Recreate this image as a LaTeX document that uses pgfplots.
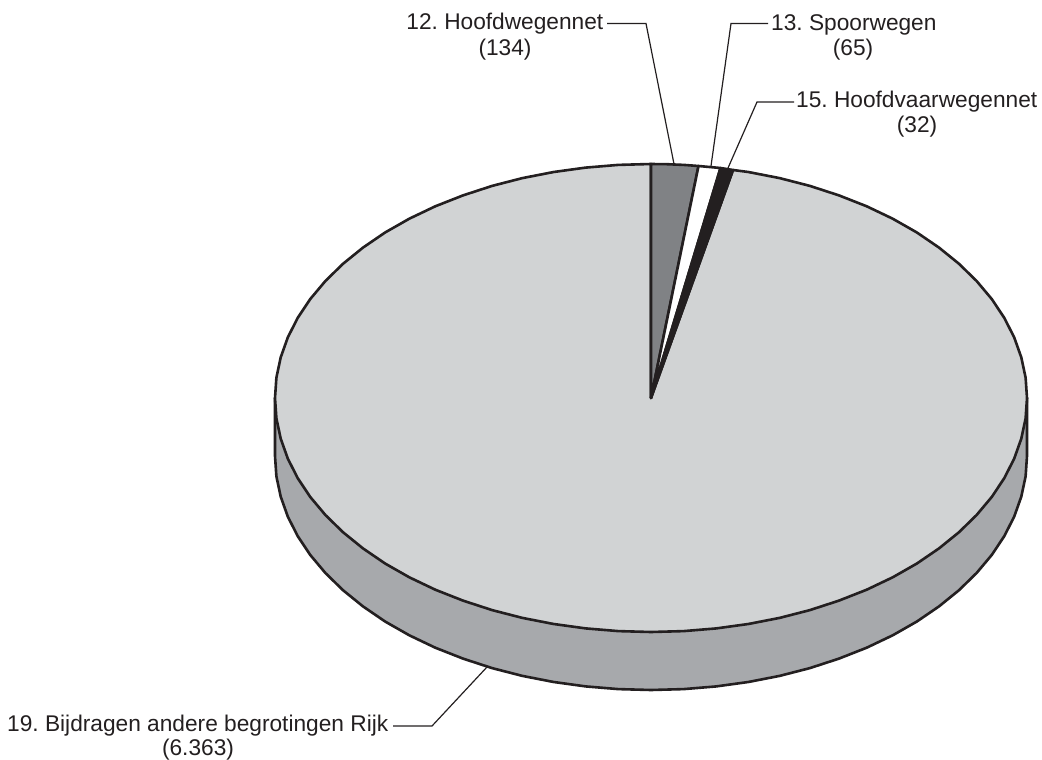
\documentclass[border=0pt]{standalone}
\usepackage{fontspec}
\setmainfont{Liberation Sans}
\usepackage{pgfplots}
\pgfplotsset{compat=1.18}
\definecolor{ink}{HTML}{231F20}
\definecolor{topgrey}{HTML}{D1D3D4}
\definecolor{sidegrey}{HTML}{A7A9AC}
\definecolor{roadgrey}{HTML}{808285}
\tikzset{lab/.style={text=ink, font=\fontsize{22.7}{26}\selectfont\frenchspacing, inner sep=0pt}}
\begin{document}
\begin{tikzpicture}
\path[use as bounding box] (0,0) rectangle (1042pt,760pt);
\begin{axis}[
    scale only axis, width=1042pt, height=760pt,
    xmin=0, xmax=1042, ymin=0, ymax=760, y dir=reverse,
    hide axis, clip=false,
    pie/.style={draw=ink, line width=2.6pt, line join=round},
    lead/.style={draw=ink, line width=1.2pt, line join=miter}
]
% side wall
\addplot[pie, fill=sidegrey] coordinates {
(1027,398) (1027,456) (1025.6,476.4) (1021.3,496.6) (1014.2,516.6) (1004.3,536.1)
(991.8,554.9) (976.6,573) (959,590.2) (939,606.4) (916.9,621.5) (892.7,635.3)
(866.7,647.7) (839,658.6) (809.9,668.1) (779.6,675.9) (748.3,682) (716.3,686.4)
(683.8,689.1) (651,690) (618.2,689.1) (585.7,686.4) (553.7,682) (522.4,675.9)
(492.1,668.1) (463,658.6) (435.3,647.7) (409.3,635.3) (385.1,621.5) (363,606.4)
(343,590.2) (325.4,573) (310.2,554.9) (297.7,536.1) (287.8,516.6) (280.7,496.6)
(276.4,476.4) (275,456) (275,398)
} -- cycle;
% 19. Bijdragen andere begrotingen Rijk
\addplot[pie, fill=topgrey] coordinates {
(651,398) (733,170) (748.3,172) (779.6,178.1) (809.9,185.9) (839,195.4) (866.7,206.3)
(892.7,218.7) (916.9,232.5) (939,247.6) (959,263.8) (976.6,281) (991.8,299.1)
(1004.3,317.9) (1014.2,337.4) (1021.3,357.4) (1025.6,377.6) (1027,398)
(1025.6,418.4) (1021.3,438.6) (1014.2,458.6) (1004.3,478.1) (991.8,496.9)
(976.6,515) (959,532.2) (939,548.4) (916.9,563.5) (892.7,577.3) (866.7,589.7)
(839,600.6) (809.9,610.1) (779.6,617.9) (748.3,624) (716.3,628.4) (683.8,631.1)
(651,632) (618.2,631.1) (585.7,628.4) (553.7,624) (522.4,617.9) (492.1,610.1)
(463,600.6) (435.3,589.7) (409.3,577.3) (385.1,563.5) (363,548.4) (343,532.2)
(325.4,515) (310.2,496.9) (297.7,478.1) (287.8,458.6) (280.7,438.6) (276.4,418.4)
(275,398) (276.4,377.6) (280.7,357.4) (287.8,337.4) (297.7,317.9) (310.2,299.1)
(325.4,281) (343,263.8) (363,247.6) (385.1,232.5) (409.3,218.7) (435.3,206.3)
(463,195.4) (492.1,185.9) (522.4,178.1) (553.7,172) (585.7,167.6) (618.2,164.9)
(651,164)
} -- cycle;
% 12. Hoofdwegennet
\addplot[pie, fill=roadgrey] coordinates {(651,398) (651,164) (667,164.2) (683.8,164.9) (698.5,166)} -- cycle;
% 13. Spoorwegen
\addplot[pie, fill=white] coordinates {(651,398) (698.5,166) (720.5,168)} -- cycle;
% 15. Hoofdvaarwegennet
\addplot[pie, fill=ink] coordinates {(651,398) (720.5,168) (733,170)} -- cycle;
% leader lines
\addplot[lead] coordinates {(607,23.5) (646,23.5) (674,164)};
\addplot[lead] coordinates {(768,23.5) (731,23.5) (711,166)};
\addplot[lead] coordinates {(794,102) (757,102) (728,168)};
\addplot[lead] coordinates {(393,726) (432,726) (487,667)};
% labels
\node[lab, anchor=base east] at (axis cs:603.5,30) {12. Hoofdwegennet};
\node[lab, anchor=base] at (axis cs:505,56) {(134)};
\node[lab, anchor=base west] at (axis cs:771,30.5) {13. Spoorwegen};
\node[lab, anchor=base] at (axis cs:853,55.5) {(65)};
\node[lab, anchor=base west] at (axis cs:796,107.5) {15. Hoofdvaarwegennet};
\node[lab, anchor=base] at (axis cs:917,132.5) {(32)};
\node[lab, anchor=base east] at (axis cs:388.5,731.5) {19. Bijdragen andere begrotingen Rijk};
\node[lab, anchor=base] at (axis cs:198,755) {(6.363)};
\end{axis}
\end{tikzpicture}
\end{document}
